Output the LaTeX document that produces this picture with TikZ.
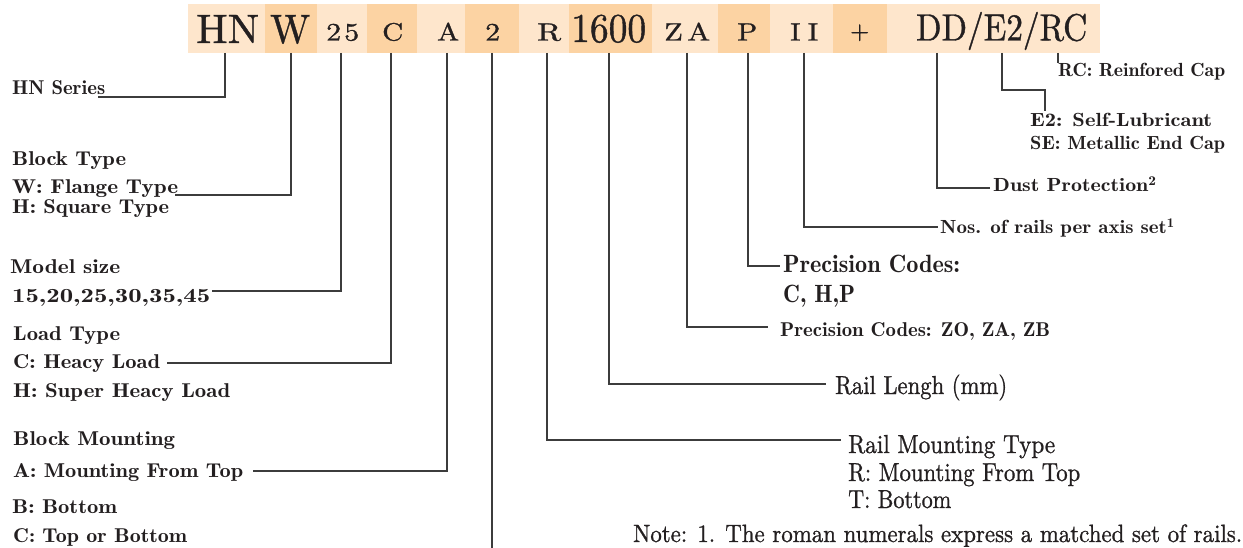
\documentclass[tikz,border=0pt]{standalone}
\usepackage{graphicx}
\usepackage{fontspec}
\newfontfamily\lmheavy{lmroman10-regular.otf}[FakeBold=1.0]
\definecolor{lt}{RGB}{254,230,204}
\definecolor{dk}{RGB}{252,211,163}
\definecolor{ink}{RGB}{35,31,32}
\definecolor{wire}{RGB}{60,60,60}
% #1 width (pt), #2 scale of a 10pt design, #3 text
\newcommand\fr[3]{\resizebox{#1pt}{\height}{\scalebox{#2}{\fontsize{10pt}{12pt}\lmheavy #3}}}
\newcommand\fb[3]{\resizebox{#1pt}{\height}{\scalebox{#2}{\fontsize{10pt}{12pt}\fontseries{b}\selectfont #3}}}
\tikzset{
  seg/.style={rectangle, inner sep=0pt, minimum height=49pt, anchor=north west, draw=none},
  txt/.style={inner sep=0pt, anchor=base west, text=ink},
  wireline/.style={draw=wire, line width=1.3pt}
}
\begin{document}
\begin{tikzpicture}[x=1pt,y=-1pt]
\useasboundingbox (0,0) rectangle (1243,548);
% ---- code bar segments
\node[seg, fill=lt, minimum width=77pt] (sHN) at (188,4) {};
\node[seg, fill=dk, minimum width=52pt] (sW) at (265,4) {};
\node[seg, fill=lt, minimum width=50pt] (s25) at (317,4) {};
\node[seg, fill=dk, minimum width=50pt] (sC) at (367,4) {};
\node[seg, fill=lt, minimum width=48pt] (sA) at (417,4) {};
\node[seg, fill=dk, minimum width=54pt] (s2) at (465,4) {};
\node[seg, fill=lt, minimum width=50pt] (sR) at (519,4) {};
\node[seg, fill=dk, minimum width=83pt] (s16) at (569,4) {};
\node[seg, fill=lt, minimum width=66pt] (sZA) at (652,4) {};
\node[seg, fill=dk, minimum width=52pt] (sP) at (718,4) {};
\node[seg, fill=lt, minimum width=63pt] (sII) at (770,4) {};
\node[seg, fill=dk, minimum width=54pt] (sPl) at (833,4) {};
\node[seg, fill=lt, minimum width=213pt] (sDD) at (887,4) {};
% ---- code bar texts
\node[txt] (xHN) at (196,43) {\fr{63}{4.1}{HN}};
\node[txt] (xW) at (270,43) {\fr{40}{4.1}{W}};
\node[txt] (x25) at (326,40.5) {\fr{33}{2.5}{2\kern1pt 5}};
\node[txt] (xC) at (382,40.5) {\fr{21}{2.5}{C}};
\node[txt] (xA) at (437,40.5) {\fr{22}{2.5}{A}};
\node[txt] (x2) at (485,40.5) {\fr{15}{2.5}{2}};
\node[txt] (xR) at (537,40.5) {\fr{24}{2.5}{R}};
\node[txt] (x16) at (571,42) {\fr{75}{4.1}{1600}};
\node[txt] (xZA) at (664,40.5) {\fr{46}{2.5}{Z\kern1.5pt A}};
\node[txt] (xP) at (737,40.5) {\fr{20}{2.5}{P}};
\node[txt] (xII) at (790,40.5) {\fr{28}{2.5}{I\kern2.5pt I}};
\node[txt] (xPl) at (850,39) {\fr{19}{2.5}{+}};
\node[txt] (xDD) at (916,40.5) {\fr{171}{3.8}{DD/E2/RC}};
% ---- left labels
\node[txt] (lHN) at (12,95) {\fb{93}{2.0}{HN Series}};
\node[txt] (lW1) at (12,166) {\fb{114}{2.0}{Block Type}};
\node[txt] (lW2) at (12,194) {\fb{166}{2.0}{W: Flange Type}};
\node[txt] (lW3) at (12,214) {\fb{157}{2.0}{H: Square Type}};
\node[txt] (l251) at (10,273) {\fb{110}{2.0}{Model size}};
\node[txt] (l252) at (12,303) {\fb{198}{2.0}{15,20,25,30,35,45}};
\node[txt] (lC1) at (13,341) {\fb{107}{2.0}{Load Type}};
\node[txt] (lC2) at (13,368) {\fb{147}{2.0}{C: Heacy Load}};
\node[txt] (lC3) at (13,397) {\fb{217}{2.0}{H: Super Heacy Load}};
\node[txt] (lA1) at (13,445) {\fb{162}{2.0}{Block Mounting}};
\node[txt] (lA2) at (13,477) {\fb{230}{2.0}{A: Mounting From Top}};
\node[txt] (lA3) at (12,513) {\fb{105}{2.0}{B: Bottom}};
\node[txt] (lA4) at (13,542) {\fb{174}{2.0}{C: Top or Bottom}};
% ---- right labels
\node[txt] (lRC) at (1058,77) {\fb{167}{1.9}{RC: Reinfored Cap}};
\node[txt] (lE1) at (1030,127) {\fb{182}{1.9}{E2: Self-Lubricant}};
\node[txt] (lE2) at (1030,150) {\fb{195}{1.9}{SE: Metallic End Cap}};
\node[txt] (lDD) at (993,192) {\fb{164}{1.9}{Dust Protection\textsuperscript{2}}};
\node[txt] (lII) at (940,234) {\fb{235}{1.9}{Nos. of rails per axis set\textsuperscript{1}}};
\node[txt] (lP1) at (783,273) {\fb{177}{2.5}{Precision Codes:}};
\node[txt] (lP2) at (783,302) {\fb{72}{2.5}{C, H,P}};
\node[txt] (lZA) at (780,337) {\fb{270}{2.0}{Precision Codes: ZO, ZA, ZB}};
\node[txt] (l16) at (835,394) {\fr{172}{2.6}{Rail Lengh (mm)}};
\node[txt] (lR1) at (848,453) {\fr{207}{2.6}{Rail Mounting Type}};
\node[txt] (lR2) at (848,481) {\fr{232}{2.6}{R: Mounting From Top}};
\node[txt] (lR3) at (848,508) {\fr{103}{2.6}{T: Bottom}};
\node[txt] (note) at (633,542) {\fr{609}{2.5}{Note: 1. The roman numerals express a matched set of rails.}};
% ---- connector coordinates
\coordinate (tHN) at (225,53);  \coordinate (eHN) at (98,97);
\coordinate (tW) at (291,53);   \coordinate (eW) at (175,195);
\coordinate (t25) at (341,53);  \coordinate (e25) at (212,291);
\coordinate (tC) at (391,53);   \coordinate (eC) at (167,363);
\coordinate (tA) at (447,53);   \coordinate (eA) at (253,471);
\coordinate (t2) at (492,53);   \coordinate (e2) at (492,548);
\coordinate (tR) at (547,53);   \coordinate (eR) at (841,440);
\coordinate (t16) at (609,53);  \coordinate (e16) at (826,384);
\coordinate (tZA) at (687,53);  \coordinate (eZA) at (768,327);
\coordinate (tP) at (748,53);   \coordinate (eP) at (780,266);
\coordinate (tII) at (804,53);  \coordinate (eII) at (938,227);
\coordinate (tDD) at (937,53);  \coordinate (eDD) at (990,188);
\coordinate (tE2) at (1002,53); \coordinate (kE2) at (1045,90); \coordinate (eE2) at (1045,111);
\coordinate (tRC) at (1058,53); \coordinate (eRC) at (1058,63);
% ---- connectors
\draw[wireline] (tHN) |- (eHN);
\draw[wireline] (tW) |- (eW);
\draw[wireline] (t25) |- (e25);
\draw[wireline] (tC) |- (eC);
\draw[wireline] (tA) |- (eA);
\draw[wireline] (t2) -- (e2);
\draw[wireline] (tR) |- (eR);
\draw[wireline] (t16) |- (e16);
\draw[wireline] (tZA) |- (eZA);
\draw[wireline] (tP) |- (eP);
\draw[wireline] (tII) |- (eII);
\draw[wireline] (tDD) |- (eDD);
\draw[wireline] (tE2) |- (kE2) -- (eE2);
\draw[wireline] (tRC) -- (eRC);
\end{tikzpicture}
\end{document}
